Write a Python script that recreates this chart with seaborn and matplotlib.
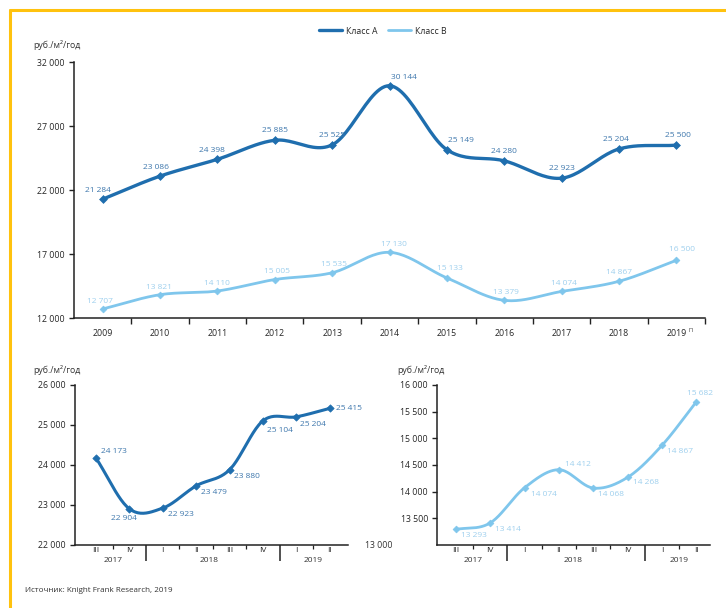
import numpy as np
import pandas as pd
import matplotlib
matplotlib.use("Agg")
import matplotlib.pyplot as plt
import matplotlib.transforms as mtransforms
from matplotlib.lines import Line2D
import seaborn as sns

# ---- data -------------------------------------------------------------
years = ["2009", "2010", "2011", "2012", "2013", "2014",
         "2015", "2016", "2017", "2018", "2019"]
forecast_mark = "П"
class_a = [21284, 23086, 24398, 25885, 25525, 30144,
           25149, 24280, 22923, 25204, 25500]
class_b = [12707, 13821, 14110, 15005, 15535, 17130,
           15133, 13379, 14074, 14867, 16500]

quarters = ["III", "IV", "I", "II", "III", "IV", "I", "II"]
quarter_years = ["2017", "2018", "2019"]
a_quarterly = [24173, 22904, 22923, 23479, 23880, 25104, 25204, 25415]
b_quarterly = [13293, 13414, 14074, 14412, 14068, 14268, 14867, 15682]

top_yticks = [12000, 17000, 22000, 27000, 32000]
left_yticks = [22000, 23000, 24000, 25000, 26000]
right_yticks = [13500, 14000, 14500, 15000, 15500, 16000]

unit_label = "руб./м²/год"
source_text = "Источник: Knight Frank Research, 2019"

# ---- style ------------------------------------------------------------
DARK = "#1f6eae"
LIGHT = "#7fc6ec"
DARK_TXT = "#3f78ad"
LIGHT_TXT = "#9fd0ee"
FRAME = "#ffc20e"

sns.set_theme(style="white")
plt.rcParams["font.family"] = ["Open Sans", "DejaVu Sans"]
plt.rcParams["axes.linewidth"] = 1.1
plt.rcParams["axes.edgecolor"] = "#222222"


def fmt(v):
    return f"{v:,}".replace(",", " ")


def smooth(values, steps=24):
    """Catmull-Rom curve through the given points (x = 0..n-1)."""
    y = np.asarray(values, float)
    n = len(y)
    p = np.concatenate([[2 * y[0] - y[1]], y, [2 * y[-1] - y[-2]]])
    xs, ys = [], []
    t = np.linspace(0, 1, steps, endpoint=False)
    for i in range(n - 1):
        p0, p1, p2, p3 = p[i], p[i + 1], p[i + 2], p[i + 3]
        seg = 0.5 * (2 * p1 + (-p0 + p2) * t
                     + (2 * p0 - 5 * p1 + 4 * p2 - p3) * t ** 2
                     + (-p0 + 3 * p1 - 3 * p2 + p3) * t ** 3)
        xs.append(i + t)
        ys.append(seg)
    xs.append([n - 1])
    ys.append([y[-1]])
    return np.concatenate(xs), np.concatenate(ys)


def draw_series(ax, values, color, lw, msize):
    xs, ys = smooth(values)
    sns.lineplot(x=xs, y=ys, ax=ax, color=color, lw=lw,
                 sort=False, estimator=None, legend=False)
    sns.scatterplot(x=np.arange(len(values)), y=values, ax=ax, marker="D",
                    s=msize, color=color, edgecolor=color, linewidth=0.5,
                    zorder=4, legend=False)


def style_axes(ax):
    sns.despine(ax=ax)
    ax.spines["left"].set_color("#222222")
    ax.spines["bottom"].set_color("#222222")
    ax.tick_params(axis="y", which="major", length=3.5, width=1.0,
                   direction="out", labelsize=6.3, pad=3, color="#222222",
                   left=True)
    ax.yaxis.set_major_formatter(plt.FuncFormatter(lambda v, _: fmt(int(v))))
    ax.set_xlabel("")
    ax.set_ylabel("")
    ax.grid(False)


fig = plt.figure(figsize=(7.26, 6.08), dpi=100)
W, H = 726, 608


def add_axes_px(left, top, right, bottom):
    return fig.add_axes([left / W, 1 - bottom / H,
                         (right - left) / W, (bottom - top) / H])


# ---- top chart: annual rates ----------------------------------------
ax = add_axes_px(74, 62, 705, 318)
draw_series(ax, class_a, DARK, 2.4, 16)
draw_series(ax, class_b, LIGHT, 2.0, 12)
ax.set_xlim(-0.5, 10.5)
ax.set_ylim(12000, 32000)
ax.set_yticks(top_yticks)
style_axes(ax)
ax.set_xticks(range(len(years)))
ax.set_xticklabels(years)
ax.set_xticks(np.arange(0.5, 11, 1.0), minor=True)
ax.tick_params(axis="x", which="major", length=0, pad=8, labelsize=6.3)
ax.tick_params(axis="x", which="minor", length=4, width=1.0,
               direction="out", color="#222222", bottom=True)
trans_top = mtransforms.blended_transform_factory(ax.transData, ax.transAxes)
ax.text(10.21, -0.047, forecast_mark, transform=trans_top, fontsize=4,
        ha="left", va="center", color="#333333")

a_off = [(-5, 5), (-4, 5), (-5, 5), (0, 6), (0, 6), (14, 5),
         (14, 6), (0, 6), (0, 6), (-3, 6), (2, 6)]
b_off = [(-3, 4), (-1, 4), (0, 4), (2, 5), (2, 5), (4, 4),
         (3, 6), (2, 4), (2, 4), (0, 5), (6, 7)]
for i, v in enumerate(class_a):
    ax.annotate(fmt(v), (i, v), xytext=a_off[i], textcoords="offset pixels",
                ha="center", va="bottom", fontsize=6, color=DARK_TXT)
for i, v in enumerate(class_b):
    ax.annotate(fmt(v), (i, v), xytext=b_off[i], textcoords="offset pixels",
                ha="center", va="bottom", fontsize=6, color=LIGHT_TXT)

fig.text(33 / W, 1 - 45 / H, unit_label, fontsize=6.3, va="center",
         color="#333333")

handles = [Line2D([0], [0], color=DARK, lw=2.4),
           Line2D([0], [0], color=LIGHT, lw=2.0)]
fig.legend(handles, ["Класс A", "Класс B"], loc="center",
           bbox_to_anchor=(383 / W, 1 - 31 / H), ncol=2, frameon=False,
           fontsize=6.3, handlelength=2.6, columnspacing=1.2,
           handletextpad=0.5)


# ---- bottom charts: quarterly rates ----------------------------------
def quarterly_axes(ax):
    ax.set_xticks(range(len(quarters)))
    ax.set_xticklabels(quarters)
    ax.set_xticks([0.5, 2.5, 3.5, 4.5, 6.5], minor=True)
    ax.tick_params(axis="x", which="major", length=0, pad=1.5, labelsize=6)
    ax.tick_params(axis="x", which="minor", length=3, width=0.9,
                   direction="out", color="#222222", bottom=True)
    trans = mtransforms.blended_transform_factory(ax.transData, ax.transAxes)
    ax.vlines([1.5, 5.5], -0.1, 0, transform=trans, color="#222222",
              lw=1.1, clip_on=False)
    for x, label in zip([0.5, 3.4, 6.5], quarter_years):
        ax.text(x, -0.1, label, transform=trans, ha="center", va="center",
                fontsize=6, color="#333333")


ax2 = add_axes_px(75, 385, 348, 545)
draw_series(ax2, a_quarterly, DARK, 2.2, 14)
ax2.set_xlim(-0.63, 7.55)
ax2.set_ylim(22000, 26000)
ax2.set_yticks(left_yticks)
style_axes(ax2)
quarterly_axes(ax2)
l_off = [(5, 3, "left", "bottom"), (-5, -6, "center", "top"),
         (5, -3, "left", "top"), (5, -3, "left", "top"),
         (4, -3, "left", "top"), (4, -6, "left", "top"),
         (4, -4, "left", "top"), (6, 0, "left", "center")]
for i, v in enumerate(a_quarterly):
    dx, dy, ha, va = l_off[i]
    ax2.annotate(fmt(v), (i, v), xytext=(dx, dy), textcoords="offset pixels",
                 ha=ha, va=va, fontsize=6, color=DARK_TXT)
fig.text(33 / W, 1 - 370 / H, unit_label, fontsize=6.3, va="center",
         color="#333333")

ax3 = add_axes_px(437, 385, 710, 545)
draw_series(ax3, b_quarterly, LIGHT, 2.0, 12)
ax3.set_xlim(-0.55, 7.4)
ax3.set_ylim(13000, 16000)
ax3.set_yticks(right_yticks)
style_axes(ax3)
quarterly_axes(ax3)
r_off = [(5, -3, "left", "top"), (5, -3, "left", "top"),
         (6, -3, "left", "top"), (6, 2, "left", "bottom"),
         (5, -3, "left", "top"), (5, -2, "left", "top"),
         (5, -3, "left", "top"), (4, 5, "center", "bottom")]
for i, v in enumerate(b_quarterly):
    dx, dy, ha, va = r_off[i]
    ax3.annotate(fmt(v), (i, v), xytext=(dx, dy), textcoords="offset pixels",
                 ha=ha, va=va, fontsize=6, color=LIGHT_TXT)
trans3 = mtransforms.blended_transform_factory(ax3.transAxes, ax3.transData)
ax3.text(-0.265, 13000, fmt(13000), transform=trans3, ha="left",
         va="center", fontsize=6.3, color="#333333")
fig.text(397 / W, 1 - 370 / H, unit_label, fontsize=6.3, va="center",
         color="#333333")

fig.text(25 / W, 1 - 590 / H, source_text, fontsize=5.8, va="center",
         color="#333333")

# ---- frame ------------------------------------------------------------
fig.add_artist(Line2D([10 / W, 10 / W], [0, 1 - 10 / H],
                      transform=fig.transFigure, color=FRAME, lw=2.2))
fig.add_artist(Line2D([10 / W, 1], [1 - 10 / H, 1 - 10 / H],
                      transform=fig.transFigure, color=FRAME, lw=2.2))

fig.savefig("out.png", dpi=100, facecolor="white")
